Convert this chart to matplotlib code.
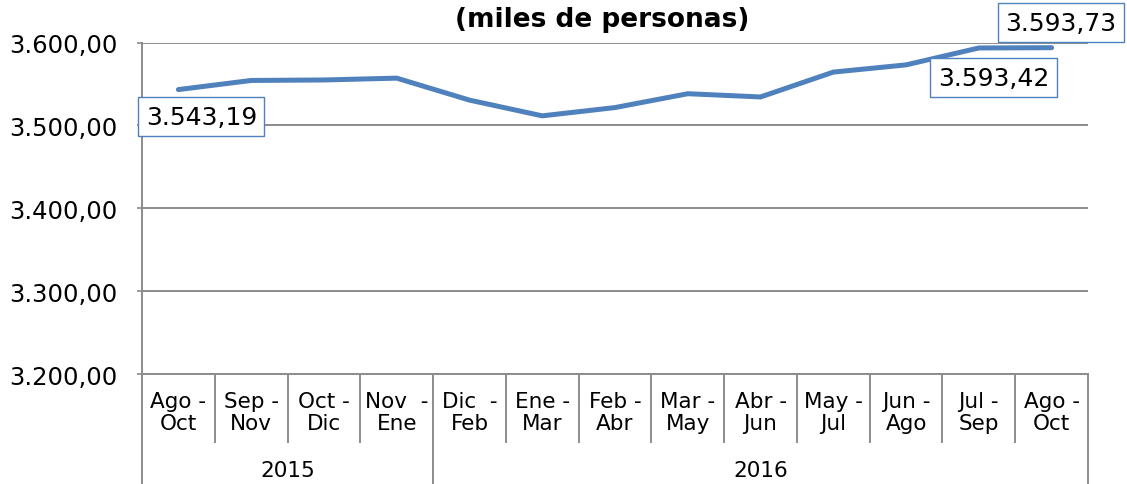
import matplotlib
matplotlib.use('Agg')
import matplotlib.pyplot as plt
from matplotlib.ticker import FuncFormatter
import numpy as np

# data
periods = ['Ago -\nOct', 'Sep -\nNov', 'Oct -\nDic', 'Nov  -\nEne', 'Dic  -\nFeb',
           'Ene -\nMar', 'Feb -\nAbr', 'Mar -\nMay', 'Abr -\nJun', 'May -\nJul',
           'Jun -\nAgo', 'Jul -\nSep', 'Ago -\nOct']
values = [3543.19, 3554.2, 3554.8, 3557.0, 3530.5, 3511.5, 3521.5,
          3538.2, 3534.3, 3564.3, 3573.0, 3593.42, 3593.73]
years = ['2015', '2016']
year_counts = [4, 9]
yticks = [3200, 3300, 3400, 3500, 3600]
labelled = [0, 11, 12]
title = '(miles de personas)'

blue = '#4f81bd'
grey = '#8c8c8c'

def es_fmt(v, pos=None):
    s = f'{v:,.2f}'
    return s.replace(',', 'X').replace('.', ',').replace('X', '.')

fig = plt.figure(figsize=(11.27, 4.85), dpi=100)
ax = fig.add_axes([0.126, 0.2268, 0.8394, 0.6835])

x = np.arange(len(values))
ax.plot(x, values, color=blue, lw=3.6, solid_capstyle='round', clip_on=False, zorder=3)

ax.set_xlim(-0.5, len(values) - 0.5)
ax.set_ylim(3200, 3600)
ax.set_yticks(yticks)
ax.yaxis.set_major_formatter(FuncFormatter(es_fmt))
ax.yaxis.grid(True, color=grey, lw=1.4)
ax.set_axisbelow(True)
ax.tick_params(axis='y', length=3.6, width=1.2, color=grey, pad=14, labelsize=17.5)

ax.set_xticks(x)
ax.set_xticklabels(periods, fontsize=15.5, linespacing=1.15)
ax.tick_params(axis='x', length=0, pad=12)

for s in ['top', 'right']:
    ax.spines[s].set_visible(False)
ax.spines['left'].set_color(grey)
ax.spines['left'].set_linewidth(1.4)
ax.spines['bottom'].set_color(grey)
ax.spines['bottom'].set_linewidth(1.4)

# category separators and year separators below the axis
trans = ax.get_xaxis_transform()
short_y = -0.205
long_y = -0.335
bounds = np.cumsum([0] + year_counts) - 0.5
for b in np.arange(-0.5, len(values), 1.0):
    ylow = long_y if b in bounds else short_y
    ax.plot([b, b], [0, ylow], color=grey, lw=1.4, transform=trans, clip_on=False)

start = -0.5
for yr, n in zip(years, year_counts):
    ax.text(start + n / 2, -0.29, yr, transform=trans, ha='center', va='center', fontsize=15.5)
    start += n

# data labels
offsets = {0: (16.5, -19.5), 11: (10.5, -21.5), 12: (6.5, 18)}
for i in labelled:
    ax.annotate(es_fmt(values[i]), (x[i], values[i]), xytext=offsets[i],
                textcoords='offset points', ha='center', va='center', fontsize=18,
                bbox=dict(boxstyle='square,pad=0.3', fc='white', ec=blue, lw=1.0),
                annotation_clip=False, zorder=5)

fig.text(0.534, 0.958, title, ha='center', va='center', fontsize=19, fontweight='bold')

fig.savefig('out.png', dpi=100)
